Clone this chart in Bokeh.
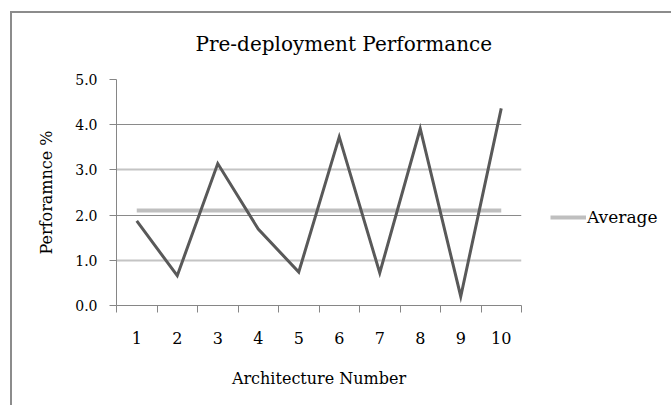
from bokeh.plotting import figure
from bokeh.models import (Range1d, FixedTicker, NumeralTickFormatter, Grid,
                          Legend, LegendItem)
from bokeh.embed import file_html
from bokeh.resources import INLINE

# ---- data ----
architectures = [1, 2, 3, 4, 5, 6, 7, 8, 9, 10]
performance = [1.87, 0.66, 3.14, 1.69, 0.74, 3.73, 0.72, 3.91, 0.20, 4.36]
average = [2.10, 2.10, 2.10, 2.10, 2.10, 2.10, 2.10, 2.10, 2.10, 2.10]
y_ticks = [0, 1, 2, 3, 4, 5]
title_text = "Pre-deployment Performance"
x_title = "Architecture Number"
y_title = "Perforamnce %"
legend_text = "Average"

FONT = "DejaVu Serif"
AXIS_GRAY = "#868686"
BORDER = "#8c8c8c"

x_bounds = [a - 0.5 for a in architectures] + [architectures[-1] + 0.5]

frame_lines = (f"linear-gradient({BORDER},{BORDER}) 0px 7px / 100% 2px no-repeat, "
               f"linear-gradient({BORDER},{BORDER}) 0px 7px / 2px 100% no-repeat")

p = figure(
    frame_width=405, frame_height=226,
    x_range=Range1d(x_bounds[0], x_bounds[-1]),
    y_range=Range1d(y_ticks[0], y_ticks[-1]),
    min_border_left=106, min_border_right=148,
    min_border_top=75, min_border_bottom=100,
    output_backend="svg", toolbar_location=None,
    outline_line_color=None,
    background_fill_color="white", border_fill_alpha=0,
    styles={"margin-left": "10px", "margin-top": "4px", "background": frame_lines},
)

# title
p.title.text = title_text
p.title.text_font = FONT
p.title.text_font_size = "20px"
p.title.text_font_style = "normal"
p.title.text_color = "black"
p.title.align = "left"
p.title.offset = 79
p.title.standoff = 48

# grids
p.xgrid.grid_line_color = None
p.ygrid.grid_line_color = None
p.add_layout(Grid(dimension=1, ticker=FixedTicker(ticks=[1, 3, 5]),
                  grid_line_color="#c4c4c4", grid_line_width=2))
p.add_layout(Grid(dimension=1, ticker=FixedTicker(ticks=[2, 4]),
                  grid_line_color="#8a8a8a", grid_line_width=1))

# x axis
xa = p.xaxis[0]
xa.ticker = FixedTicker(ticks=architectures, minor_ticks=x_bounds)
xa.major_label_overrides = {a: str(a) for a in architectures}
xa.major_tick_out = 0
xa.major_tick_in = 0
xa.minor_tick_out = 7
xa.minor_tick_in = 0
xa.minor_tick_line_color = AXIS_GRAY
xa.axis_line_color = AXIS_GRAY
xa.major_label_text_font = FONT
xa.major_label_text_font_size = "16px"
xa.major_label_text_color = "black"
xa.major_label_standoff = 19
xa.axis_label = x_title
xa.axis_label_text_font = FONT
xa.axis_label_text_font_size = "16px"
xa.axis_label_text_font_style = "normal"
xa.axis_label_text_color = "black"
xa.axis_label_standoff = 22

# y axis
ya = p.yaxis[0]
ya.ticker = FixedTicker(ticks=y_ticks, minor_ticks=[])
ya.formatter = NumeralTickFormatter(format="0.0")
ya.major_tick_out = 7
ya.major_tick_in = 0
ya.major_tick_line_color = AXIS_GRAY
ya.axis_line_color = AXIS_GRAY
ya.major_label_text_font = FONT
ya.major_label_text_font_size = "14px"
ya.major_label_text_color = "black"
ya.major_label_standoff = 12
ya.axis_label = y_title
ya.axis_label_text_font = FONT
ya.axis_label_text_font_size = "16px"
ya.axis_label_text_font_style = "normal"
ya.axis_label_text_color = "black"
ya.axis_label_standoff = 16

# series
r_avg = p.line(architectures, average, line_color="#BFBFBF", line_width=4)
r_perf = p.line(architectures, performance, line_color="#595959", line_width=3,
                line_join="miter")

legend = Legend(
    items=[LegendItem(label=legend_text, renderers=[r_avg])],
    location=(29, 78),
    glyph_width=36, glyph_height=20, label_standoff=1,
    padding=0, margin=0, spacing=0,
    border_line_color=None, background_fill_alpha=0,
    label_text_font=FONT, label_text_font_size="17px",
    label_text_color="black",
)
p.add_layout(legend, "right")

open("out.html", "w").write(file_html(p, INLINE))
